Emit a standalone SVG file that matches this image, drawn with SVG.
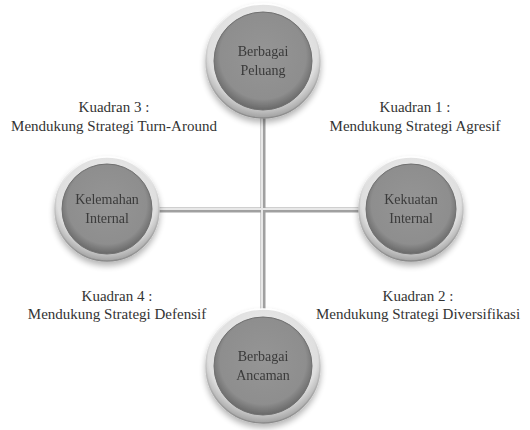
<svg xmlns="http://www.w3.org/2000/svg" width="530" height="430" viewBox="0 0 530 430">
<defs>
<radialGradient id="ring" cx="50%" cy="40%" r="60%">
<stop offset="0" stop-color="#f6f6f6"/>
<stop offset="0.8" stop-color="#dedede"/>
<stop offset="1" stop-color="#a0a0a0"/>
</radialGradient>
<linearGradient id="ringEdge" x1="0" y1="0" x2="0" y2="1">
<stop offset="0" stop-color="#ffffff"/>
<stop offset="1" stop-color="#8a8a8a"/>
</linearGradient>
<radialGradient id="core" cx="50%" cy="45%" r="55%">
<stop offset="0" stop-color="#959595"/>
<stop offset="0.8" stop-color="#8e8e8e"/>
<stop offset="1" stop-color="#686868"/>
</radialGradient>
<filter id="sh" x="-20%" y="-20%" width="140%" height="150%">
<feGaussianBlur in="SourceAlpha" stdDeviation="3"/>
<feOffset dy="4"/>
<feComponentTransfer><feFuncA type="linear" slope="0.3"/></feComponentTransfer>
<feMerge><feMergeNode/><feMergeNode in="SourceGraphic"/></feMerge>
</filter>
</defs>
<style>
.lbl{font-family:"Liberation Serif","Times New Roman",serif;font-size:15px;fill:#333;text-anchor:middle}
.ntx{font-family:"Liberation Serif","Times New Roman",serif;font-size:14px;fill:#3a3a3a;text-anchor:middle}
.outer{fill:url(#ring);stroke:url(#ringEdge);stroke-width:1.5}
.inner{fill:url(#core);stroke:#707070;stroke-width:1}
.ln{stroke:#a0a0a0;stroke-width:5;fill:none}
.lnh{stroke:#e8e8e8;stroke-width:2;fill:none}
</style>
<rect width="530" height="430" fill="#ffffff"/>
<g id="connectors">
<line class="ln" x1="263" y1="110" x2="263" y2="320"/>
<line class="ln" x1="155" y1="210" x2="362" y2="210"/>
<line class="lnh" x1="262" y1="110" x2="262" y2="320"/>
<line class="lnh" x1="155" y1="209" x2="362" y2="209"/>
</g>
<g id="node-top" filter="url(#sh)">
<circle class="outer" cx="263" cy="61" r="57"/>
<circle class="inner" cx="263" cy="61" r="49"/>
<text class="ntx" x="263" y="56">Berbagai</text>
<text class="ntx" x="263" y="75">Peluang</text>
</g>
<g id="node-left" filter="url(#sh)">
<circle class="outer" cx="107" cy="209" r="52"/>
<circle class="inner" cx="107" cy="209" r="45"/>
<text class="ntx" x="107" y="204">Kelemahan</text>
<text class="ntx" x="107" y="223">Internal</text>
</g>
<g id="node-right" filter="url(#sh)">
<circle class="outer" cx="411" cy="209" r="52"/>
<circle class="inner" cx="411" cy="209" r="45"/>
<text class="ntx" x="411" y="204">Kekuatan</text>
<text class="ntx" x="411" y="223">Internal</text>
</g>
<g id="node-bottom" filter="url(#sh)">
<circle class="outer" cx="263" cy="366" r="57"/>
<circle class="inner" cx="263" cy="366" r="49"/>
<text class="ntx" x="263" y="361">Berbagai</text>
<text class="ntx" x="263" y="380">Ancaman</text>
</g>
<g id="labels">
<text class="lbl" x="114" y="112">Kuadran 3 :</text>
<text class="lbl" x="114" y="131">Mendukung Strategi Turn-Around</text>
<text class="lbl" x="415" y="112">Kuadran 1 :</text>
<text class="lbl" x="415" y="131">Mendukung Strategi Agresif</text>
<text class="lbl" x="117" y="301">Kuadran 4 :</text>
<text class="lbl" x="117" y="319">Mendukung Strategi Defensif</text>
<text class="lbl" x="418" y="301">Kuadran 2 :</text>
<text class="lbl" x="418" y="319">Mendukung Strategi Diversifikasi</text>
</g>
</svg>
